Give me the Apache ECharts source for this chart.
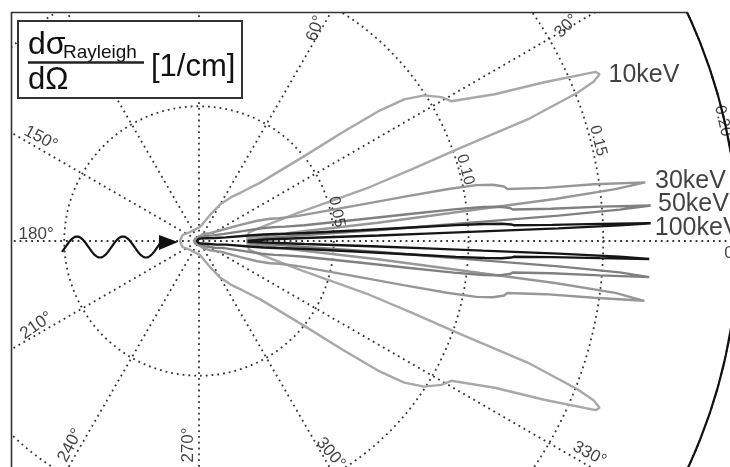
<!DOCTYPE html>
<html>
<head>
<meta charset="utf-8">
<script src="https://cdn.jsdelivr.net/npm/echarts@6/dist/echarts.min.js"></script>
<style>
html,body{margin:0;padding:0;background:#fff;}
#chart{width:730px;height:467px;}
</style>
</head>
<body>
<div id="chart"></div>
<script>
// ---- Data: scattering angle (deg, 0..180, symmetric) and dσ/dΩ [1/cm] ----
const angles10 = [0,5,10,13,16,17.5,18.6,19.6,20.3,21.4,22.0,22.6,23.1,24.7,26.4,29,30.7,32.9,34.6,35.9,37.1,38.9,43.6,48.7,54,60,67,86,110,135,160,180];
const r10      = [0.018,0.018,0.019,0.025,0.039,0.066,0.083,0.103,0.130,0.151,0.158,0.161,0.160,0.141,0.1225,0.107,0.1046,0.0995,0.0925,0.082,0.067,0.050,0.0314,0.0243,0.020,0.0156,0.0105,0.0052,0.0045,0.0047,0.0065,0.0071];

const angles30 = [0,2,3.33,4.32,5.32,5.81,6.18,6.5,6.73,7.1,7.49,7.65,8.18,8.73,9.58,10.12,10.83,11.38,11.79,12.17,12.75,14.22,15.8,17.41,19.19,21.2,26.3,35.9,39,60,90,135,180];
const r30      = [0.018,0.018,0.0187,0.0248,0.039,0.0667,0.0843,0.105,0.133,0.1557,0.167,0.1667,0.148,0.130,0.116,0.115,0.111,0.105,0.094,0.0776,0.059,0.038,0.031,0.0276,0.0229,0.0165,0.009,0.005,0.0055,0.003,0.0015,0.0015,0.002];

const angles50 = [0,1,2,2.59,3.19,3.49,3.70,3.90,4.04,4.26,4.49,4.59,4.90,5.24,5.74,6.07,6.49,6.82,7.07,7.29,7.66,8.52,9.46,10.42,11.48,12.68,15.68,21.3,23.1,40,60,90,180];
const r50      = [0.018,0.018,0.0187,0.0249,0.0393,0.0669,0.0846,0.1056,0.1338,0.1565,0.1681,0.1676,0.1493,0.1313,0.117,0.116,0.1125,0.1062,0.0953,0.0788,0.0599,0.0395,0.0324,0.0284,0.0237,0.0172,0.0097,0.0057,0.0064,0.003,0.0015,0.001,0.001];

const angles100 = [0,0.5,1.0,1.3,1.595,1.743,1.852,1.95,2.019,2.128,2.245,2.294,2.451,2.618,2.87,3.035,3.246,3.409,3.533,3.647,3.82,4.26,4.73,5.21,5.73,6.33,7.82,10.62,11.48,20,40,90,180];
const r100      = [0.018,0.018,0.0186,0.0248,0.0391,0.0667,0.0844,0.1053,0.1334,0.1561,0.1677,0.1672,0.149,0.1312,0.1169,0.116,0.1126,0.1063,0.0955,0.079,0.0601,0.0396,0.0326,0.0286,0.024,0.0175,0.01,0.006,0.0067,0.003,0.0015,0.0008,0.0008];

const seriesNames = ['10keV','30keV','50keV','100keV'];

// tick labels
const angleTickLabels = ['30°','60°','150°','180°','210°','240°','270°','300°','330°','0°'];
const radiusTickLabels = ['0.05','0.10','0.15','0.20'];

// ---- layout (label placement in polar coords: [radius, angle], rotation) ----
const angleLabelLayout = [
  [0.158,30.3,45],[0.090,61.2,70],[0.070,147,-28],[0.0605,177.5,0],[0.068,207.5,35],
  [0.0896,237.8,62],[0.0758,266.9,90],[0.0927,301.8,-50],[0.165,331.4,-28],[0.1948,358.7,0]
];
const radiusLabelLayout = [[0.0522,12,-78],[0.1023,15,-75],[0.1527,14.1,-76],[0.1994,12.9,-77]];
const seriesLabelLayout = [[0.1638,22.1],[0.1705,7.5],[0.1707,4.6],[0.169,1.6]];

const FONT = '"Liberation Sans", Arial, Helvetica, sans-serif';

function closedCurve(angs, rs){
  const d = [];
  for (let i = 0; i < angs.length; i++) d.push([rs[i], angs[i]]);
  for (let i = angs.length - 1; i >= 0; i--) d.push([rs[i], 360 - angs[i]]);
  return d;
}

const colors = ['#a8a8a8','#979797','#808080','#161616'];
const curves = [[angles10,r10],[angles30,r30],[angles50,r50],[angles100,r100]];

const series = curves.map((c, i) => ({
  name: seriesNames[i],
  type: 'line',
  coordinateSystem: 'polar',
  data: closedCurve(c[0], c[1]),
  showSymbol: false,
  symbol: 'none',
  smooth: false,
  lineStyle: { color: colors[i], width: 2.4 },
  z: 3 + i
}));

const hiddenSym = { color: 'rgba(0,0,0,0)' };

// tick labels via scatter (positioned through the polar scales)
series.push({
  type: 'scatter', coordinateSystem: 'polar', symbolSize: 1, itemStyle: hiddenSym, z: 20, silent: true,
  label: { show: true, position: 'inside', formatter: '{b}', color: '#111', fontSize: 17, fontFamily: FONT },
  data: angleTickLabels.map((t, i) => ({
    name: t, value: [angleLabelLayout[i][0], angleLabelLayout[i][1]],
    label: i === angleTickLabels.length - 1
      ? { rotate: 0, position: 'right', distance: 0, fontSize: 17 }
      : { rotate: angleLabelLayout[i][2], fontSize: 17 }
  }))
});
series.push({
  type: 'scatter', coordinateSystem: 'polar', symbolSize: 1, itemStyle: hiddenSym, z: 20, silent: true,
  label: { show: true, position: 'inside', formatter: '{b}', color: '#111', fontSize: 16, fontFamily: FONT },
  data: radiusTickLabels.map((t, i) => ({
    name: t, value: [radiusLabelLayout[i][0], radiusLabelLayout[i][1]],
    label: { rotate: radiusLabelLayout[i][2], fontSize: 16 }
  }))
});
series.push({
  type: 'scatter', coordinateSystem: 'polar', symbolSize: 1, itemStyle: hiddenSym, z: 20, silent: true,
  label: { show: true, position: 'right', distance: 0, formatter: '{b}', color: '#111', fontSize: 25, fontFamily: FONT },
  data: seriesNames.map((t, i) => ({ name: t, value: seriesLabelLayout[i] }))
});

// wavy incoming-photon arrow (decoration)
const wave = [];
for (let x = 62; x <= 162; x += 1) {
  wave.push([x, 247 - 10.5 * Math.sin(2 * Math.PI * (x - 65.5) / 46)]);
}

const dotted = { color: '#333', type: [1.8, 4], width: 1.8 };

const option = {
  animation: false,
  backgroundColor: '#ffffff',
  polar: { center: [199, 241], radius: 539 },
  angleAxis: {
    type: 'value', min: 0, max: 360, interval: 30, startAngle: 0, clockwise: false,
    axisLine: { show: true, lineStyle: { color: '#111', width: 2.2 } },
    axisTick: { show: false }, axisLabel: { show: false },
    splitLine: { show: true, lineStyle: dotted }
  },
  radiusAxis: {
    type: 'value', min: 0, max: 0.2, interval: 0.05,
    axisLine: { show: false }, axisTick: { show: false }, axisLabel: { show: false },
    splitLine: { show: true, lineStyle: dotted }
  },
  series: series,
  graphic: [
    { type: 'rect', z: 100, shape: { x: 0, y: 0, width: 730, height: 12 }, style: { fill: '#fff' } },
    { type: 'rect', z: 100, shape: { x: 0, y: 0, width: 11, height: 467 }, style: { fill: '#fff' } },
    { type: 'line', z: 101, shape: { x1: 11, y1: 12.5, x2: 688, y2: 12.5 }, style: { stroke: '#333', lineWidth: 1.6 } },
    { type: 'line', z: 101, shape: { x1: 11.5, y1: 12, x2: 11.5, y2: 467 }, style: { stroke: '#333', lineWidth: 1.6 } },
    { type: 'rect', z: 102, shape: { x: 18, y: 21, width: 224, height: 77 }, style: { fill: '#fff', stroke: '#333', lineWidth: 2 } },
    { type: 'text', z: 103, style: { x: 28, y: 61, text: 'dσ', font: '32px ' + FONT, fill: '#111', textVerticalAlign: 'bottom' } },
    { type: 'text', z: 103, style: { x: 63, y: 62, text: 'Rayleigh', font: '19px ' + FONT, fill: '#111', textVerticalAlign: 'bottom' } },
    { type: 'line', z: 103, shape: { x1: 28, y1: 62.5, x2: 144, y2: 62.5 }, style: { stroke: '#222', lineWidth: 2.5 } },
    { type: 'text', z: 103, style: { x: 28, y: 96, text: 'dΩ', font: '31px ' + FONT, fill: '#111', textVerticalAlign: 'bottom' } },
    { type: 'text', z: 103, style: { x: 151, y: 83, text: '[1/cm]', font: '31px ' + FONT, fill: '#111', textVerticalAlign: 'bottom' } },
    { type: 'polyline', z: 50, shape: { points: wave }, style: { stroke: '#111', lineWidth: 2.2, fill: null } },
    { type: 'polygon', z: 50, shape: { points: [[159, 235], [178, 242], [159, 250]] }, style: { fill: '#111' } }
  ]
};

const chart = echarts.init(document.getElementById('chart'), null, { renderer: 'canvas' });
chart.setOption(option);
</script>
</body>
</html>
